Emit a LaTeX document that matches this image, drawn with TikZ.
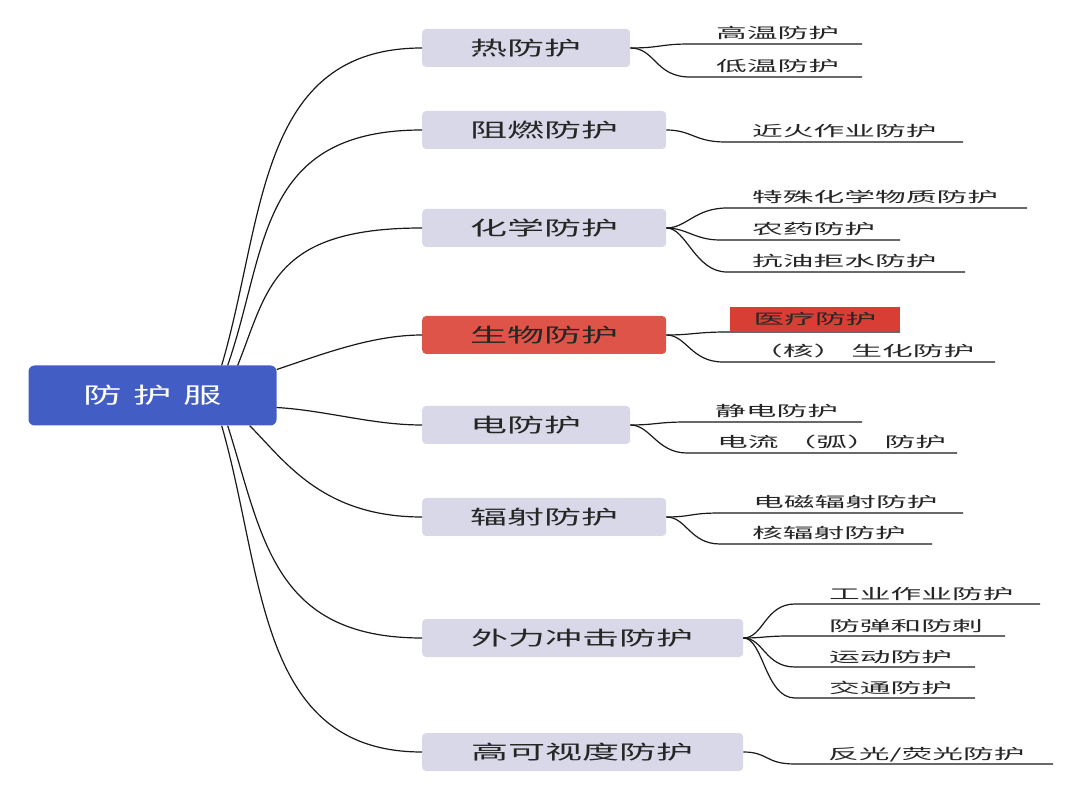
\documentclass[tikz,border=0pt]{standalone}
\usepackage{fontspec}
\usepackage{graphicx}
\usepackage{tikz}
\usetikzlibrary{positioning}
\newfontfamily\rootfont{Noto Sans CJK SC}[LetterSpace=30]
\newfontfamily\branchfont{Noto Sans CJK SC}
\newfontfamily\leaffont{Noto Sans CJK SC}
% the texts of the picture are drawn wide
\newcommand{\rw}[1]{\scalebox{1.75}[1]{#1}}
\newcommand{\bw}[1]{\scalebox{1.9}[1]{#1}}
\newcommand{\lw}[1]{\scalebox{2.12}[1]{#1}}
\definecolor{rootblue}{RGB}{66,94,196}
\definecolor{branchgray}{RGB}{216,216,232}
\definecolor{branchred}{RGB}{222,84,72}
\definecolor{leafred}{RGB}{216,62,52}
\definecolor{textgray}{RGB}{38,38,38}
\definecolor{linkgray}{RGB}{25,25,25}

\begin{document}
\begin{tikzpicture}[x=1pt,y=-1pt,
	link/.style={draw=linkgray, line width=1.2pt},
	rootbox/.style={rounded corners=6, fill=rootblue, minimum width=248, minimum height=60,
		inner sep=0, text=white, font={\fontsize{22pt}{24pt}\rootfont}},
	branch/.style={rounded corners=4, fill=branchgray, minimum height=38, inner sep=0,
		anchor=west, text=textgray, font={\fontsize{19.5pt}{21pt}\branchfont}},
	leaf/.style={anchor=base west, inner sep=0, text=textgray,
		font={\fontsize{14.5pt}{16pt}\leaffont}},
	redleaf/.style={leaf, anchor=center, fill=leafred, minimum width=170, minimum height=24}]

\useasboundingbox (0,0) rectangle (1080,791);

% Root and main branches
\node[rootbox] (root) at (152.5,395.5) {\rw{防护服}};

\node[branch, minimum width=208] (b1) at (422,48) {\bw{热防护}};
\node[branch, minimum width=244] (b2) at (422,130) {\bw{阻燃防护}};
\node[branch, minimum width=244] (b3) at (422,228) {\bw{化学防护}};
\node[branch, minimum width=244, fill=branchred] (b4) at (422,335) {\bw{生物防护}};
\node[branch, minimum width=208] (b5) at (422,425) {\bw{电防护}};
\node[branch, minimum width=244] (b6) at (422,517) {\bw{辐射防护}};
\node[branch, minimum width=321] (b7) at (422,638) {\bw{外力冲击防护}};
\node[branch, minimum width=321] (b8) at (422,752) {\bw{高可视度防护}};

% Where the links leave the root
\coordinate (r1) at ([xshift=-55]root.north east);
\coordinate (r2) at ([xshift=-49]root.north east);
\coordinate (r3) at ([xshift=-39]root.north east);
\coordinate (r4) at ([yshift=26]root.east);
\coordinate (r5) at ([yshift=-12]root.east);
\coordinate (r6) at ([xshift=-27]root.south east);
\coordinate (r7) at ([xshift=-49]root.south east);
\coordinate (r8) at ([xshift=-55]root.south east);

\draw[link] (r1) .. controls +(43,-146) and +(-165,0) .. (b1.west);
\draw[link] (r2) .. controls +(40,-115) and +(-165,0) .. (b2.west);
\draw[link] (r3) .. controls +(30,-75) and +(-150,0) .. (b3.west);
\draw[link] (r4) .. controls +(45,-15) and +(-50,0) .. (b4.west);
\draw[link] (r5) .. controls +(50,3) and +(-50,0) .. (b5.west);
\draw[link] (r6) .. controls +(35,35) and +(-100,0) .. (b6.west);
\draw[link] (r7) .. controls +(35,110) and +(-150,0) .. (b7.west);
\draw[link] (r8) .. controls +(43,150) and +(-165,0) .. (b8.west);

% Leaves: text, start and end of the underline
\node[leaf] (l1a) at (716,39) {\lw{高温防护}};
\node[leaf] (l1b) at (716,72) {\lw{低温防护}};
\coordinate (s1a) at (690,44); \coordinate (e1a) at (862,44);
\coordinate (s1b) at (690,77); \coordinate (e1b) at (862,77);
\draw[link] (b1.east) .. controls +(30,0) and +(-30,0) .. (s1a) -- (e1a);
\draw[link] (b1.east) .. controls +(25,0) and +(-35,0) .. (s1b) -- (e1b);

\node[leaf] (l2a) at (752,137) {\lw{近火作业防护}};
\coordinate (s2a) at (725,142); \coordinate (e2a) at (963,142);
\draw[link] (b2.east) .. controls +(25,0) and +(-30,0) .. (s2a) -- (e2a);

\node[leaf] (l3a) at (752,203) {\lw{特殊化学物质防护}};
\node[leaf] (l3b) at (752,235) {\lw{农药防护}};
\node[leaf] (l3c) at (752,267) {\lw{抗油拒水防护}};
\coordinate (s3a) at (727,208); \coordinate (e3a) at (1027,208);
\coordinate (s3b) at (720,240); \coordinate (e3b) at (900,240);
\coordinate (s3c) at (727,272); \coordinate (e3c) at (965,272);
\draw[link] (b3.east) .. controls +(20,0) and +(-32,0) .. (s3a) -- (e3a);
\draw[link] (b3.east) .. controls +(20,0) and +(-25,0) .. (s3b) -- (e3b);
\draw[link] (b3.east) .. controls +(20,0) and +(-32,0) .. (s3c) -- (e3c);

\node[redleaf] (l4a) at (815,319) {\lw{医疗防护}};
\node[leaf] (l4b) at (752,357) {\lw{（核） 生化防护}};
\coordinate (s4a) at (727,332); \coordinate (e4a) at (900,332);
\coordinate (s4b) at (723,362); \coordinate (e4b) at (995,362);
\draw[link] (b4.east) .. controls +(25,0) and +(-30,0) .. (s4a) -- (e4a);
\draw[link] (b4.east) .. controls +(20,0) and +(-32,0) .. (s4b) -- (e4b);

\node[leaf] (l5a) at (715,417) {\lw{静电防护}};
\node[leaf] (l5b) at (717,448) {\lw{电流 （弧） 防护}};
\coordinate (s5a) at (687,422); \coordinate (e5a) at (862,422);
\coordinate (s5b) at (687,453); \coordinate (e5b) at (957,453);
\draw[link] (b5.east) .. controls +(25,0) and +(-30,0) .. (s5a) -- (e5a);
\draw[link] (b5.east) .. controls +(20,0) and +(-30,0) .. (s5b) -- (e5b);

\node[leaf] (l6a) at (753,508) {\lw{电磁辐射防护}};
\node[leaf] (l6b) at (752,539) {\lw{核辐射防护}};
\coordinate (s6a) at (720,513); \coordinate (e6a) at (963,513);
\coordinate (s6b) at (720,544); \coordinate (e6b) at (932,544);
\draw[link] (b6.east) .. controls +(25,0) and +(-30,0) .. (s6a) -- (e6a);
\draw[link] (b6.east) .. controls +(20,0) and +(-30,0) .. (s6b) -- (e6b);

\node[leaf] (l7a) at (829,599) {\lw{工业作业防护}};
\node[leaf] (l7b) at (829,631) {\lw{防弹和防刺}};
\node[leaf] (l7c) at (829,662) {\lw{运动防护}};
\node[leaf] (l7d) at (829,693) {\lw{交通防护}};
\coordinate (s7a) at (795,604); \coordinate (e7a) at (1040,604);
\coordinate (s7b) at (790,636); \coordinate (e7b) at (1005,636);
\coordinate (s7c) at (795,667); \coordinate (e7c) at (975,667);
\coordinate (s7d) at (795,698); \coordinate (e7d) at (975,698);
\draw[link] (b7.east) .. controls +(20,0) and +(-30,0) .. (s7a) -- (e7a);
\draw[link] (b7.east) .. controls +(20,0) and +(-25,0) .. (s7b) -- (e7b);
\draw[link] (b7.east) .. controls +(20,0) and +(-30,0) .. (s7c) -- (e7c);
\draw[link] (b7.east) .. controls +(20,0) and +(-30,0) .. (s7d) -- (e7d);

\node[leaf] (l8a) at (828,759) {\lw{反光/荧光防护}};
\coordinate (s8a) at (795,764); \coordinate (e8a) at (1053,764);
\draw[link] (b8.east) .. controls +(25,0) and +(-30,0) .. (s8a) -- (e8a);

\end{tikzpicture}
\end{document}
